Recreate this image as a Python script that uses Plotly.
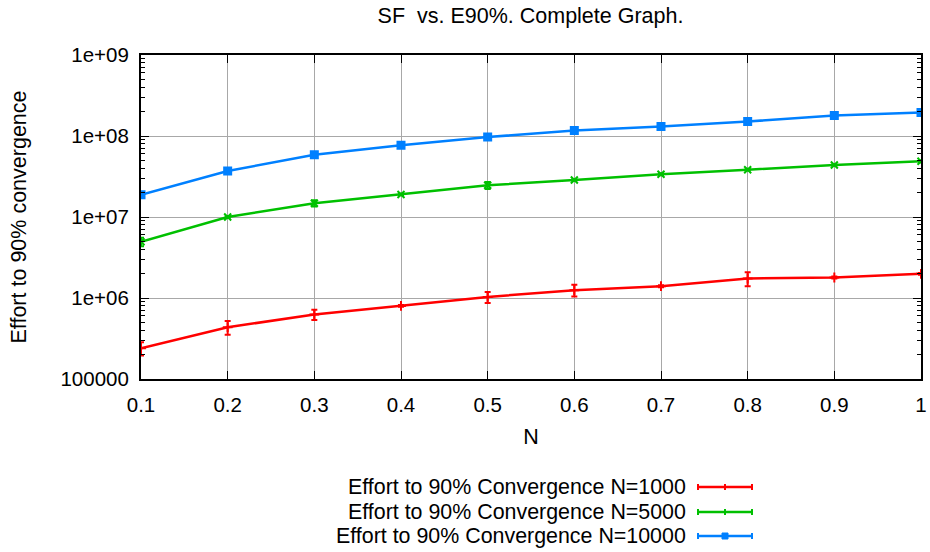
import plotly.graph_objects as go

# ---- data ----
x_vals = [0.1, 0.2, 0.3, 0.4, 0.5, 0.6, 0.7, 0.8, 0.9, 1.0]

n1000 = [2.4e5, 4.36e5, 6.24e5, 7.98e5, 1.03e6, 1.25e6, 1.40e6, 1.74e6, 1.79e6, 1.99e6]
n1000_err = [0.45e5, 0.85e5, 0.9e5, 0.2e5, 1.6e5, 2.1e5, 0.4e5, 3.4e5, 0.5e5, 0.5e5]

n5000 = [4.95e6, 1.0e7, 1.48e7, 1.9e7, 2.46e7, 2.86e7, 3.37e7, 3.84e7, 4.39e7, 4.87e7]
n5000_err = [0.6e6, 0.3e6, 1.3e6, 0.5e6, 2.5e6, 0.6e6, 1.0e6, 1.0e6, 1.0e6, 1.5e6]

n10000 = [1.88e7, 3.7e7, 5.86e7, 7.7e7, 9.7e7, 1.17e8, 1.31e8, 1.51e8, 1.79e8, 1.95e8]
n10000_err = [1.0e6, 2.0e6, 2.5e6, 2.5e6, 3.0e6, 4.0e6, 4.0e6, 4.0e6, 5.0e6, 5.0e6]

series_names = [
    "Effort to 90% Convergence N=1000",
    "Effort to 90% Convergence N=5000",
    "Effort to 90% Convergence N=10000",
]
series_colors = ["#ff0000", "#00c000", "#0080ff"]
series_symbols = ["cross-thin", "x-thin", "square"]

x_tick_vals = [0.1, 0.2, 0.3, 0.4, 0.5, 0.6, 0.7, 0.8, 0.9, 1.0]
x_tick_text = ["0.1", "0.2", "0.3", "0.4", "0.5", "0.6", "0.7", "0.8", "0.9", "1"]
y_tick_vals = [1e5, 1e6, 1e7, 1e8, 1e9]
y_tick_text = ["100000", "1e+06", "1e+07", "1e+08", "1e+09"]
y_minor_vals = [k * 10 ** n for n in range(5, 9) for k in range(2, 10)]

FONT = "Liberation Sans, Arial, sans-serif"
FS_TICK = 20.5
FS_TITLE = 21.5
FS_LEG = 21.4

fig = go.Figure()
for name, ys, errs, col, sym in zip(series_names, [n1000, n5000, n10000],
                                    [n1000_err, n5000_err, n10000_err],
                                    series_colors, series_symbols):
    fig.add_trace(go.Scatter(
        x=x_vals, y=ys, name=name, mode="lines+markers",
        line=dict(color=col, width=2.5),
        marker=dict(symbol=sym, size=7, color=col,
                    line=dict(color=col, width=2)),
        error_y=dict(type="data", array=errs, symmetric=True, color=col,
                     thickness=2, width=3),
        showlegend=False,
    ))

# ---- custom legend (text left, sample right, like gnuplot) ----
L, R, T, B = 141, 921, 55, 379
PW, PH = R - L, B - T
def px(xp):
    return (xp - L) / PW
def py(yp):
    return (B - yp) / PH

legend_rows = [487, 512, 536]
for name, col, sym, yr in zip(series_names, series_colors, series_symbols, legend_rows):
    fig.add_annotation(x=px(688), y=py(yr), xref="paper", yref="paper",
                       text=name, showarrow=False, xanchor="right", yanchor="middle",
                       font=dict(family=FONT, size=FS_LEG, color="black"))
    fig.add_shape(type="line", xref="paper", yref="paper",
                  x0=px(698), x1=px(752), y0=py(yr), y1=py(yr),
                  line=dict(color=col, width=2.5))
    for xe in (698, 752):
        fig.add_shape(type="line", xref="paper", yref="paper",
                      x0=px(xe), x1=px(xe), y0=py(yr - 3), y1=py(yr + 3),
                      line=dict(color=col, width=2))
    if sym == "square":
        fig.add_shape(type="rect", xref="paper", yref="paper",
                      x0=px(722), x1=px(728), y0=py(yr - 3), y1=py(yr + 3),
                      line=dict(color=col, width=1), fillcolor=col)
    else:
        fig.add_shape(type="line", xref="paper", yref="paper",
                      x0=px(725), x1=px(725), y0=py(yr - 3), y1=py(yr + 3),
                      line=dict(color=col, width=2))

fig.update_layout(
    width=930, height=552, autosize=False,
    margin=dict(l=L, r=930 - R, t=T, b=552 - B, autoexpand=False),
    paper_bgcolor="white", plot_bgcolor="white",
    font=dict(family=FONT, size=FS_TICK, color="black"),
    title=dict(text="SF  vs. E90%. Complete Graph.", x=px(530.5), xref="paper",
               xanchor="center", y=1 - 15 / 552, yref="container", yanchor="middle",
               font=dict(family=FONT, size=FS_TITLE, color="black")),
)
fig.update_xaxes(
    range=[0.1, 1.0], tickvals=x_tick_vals, ticktext=x_tick_text,
    showgrid=True, gridcolor="#a8a8a8", gridwidth=1,
    showline=True, linecolor="black", linewidth=2, mirror="allticks",
    ticks="inside", ticklen=8, tickcolor="black", tickwidth=1,
    ticklabelstandoff=6, zeroline=False, automargin=False,
    title=dict(text="N", standoff=14, font=dict(family=FONT, size=FS_TITLE)),
    tickfont=dict(family=FONT, size=FS_TICK),
)
fig.update_yaxes(
    type="log", range=[5, 9], tickvals=y_tick_vals, ticktext=y_tick_text,
    showgrid=True, gridcolor="#a8a8a8", gridwidth=1,
    showline=True, linecolor="black", linewidth=2, mirror="allticks",
    ticks="inside", ticklen=8, tickcolor="black", tickwidth=1,
    ticklabelstandoff=6, zeroline=False, automargin=False,
    minor=dict(tickvals=y_minor_vals, ticks="inside", ticklen=4,
               tickcolor="black", tickwidth=1, showgrid=False),
    title=dict(text="Effort to 90% convergence", standoff=28,
               font=dict(family=FONT, size=FS_TITLE)),
    tickfont=dict(family=FONT, size=FS_TICK),
)

fig.write_html("out.html", config={"displayModeBar": False},
               post_script="document.body.style.margin='0';document.body.style.padding='0';")
